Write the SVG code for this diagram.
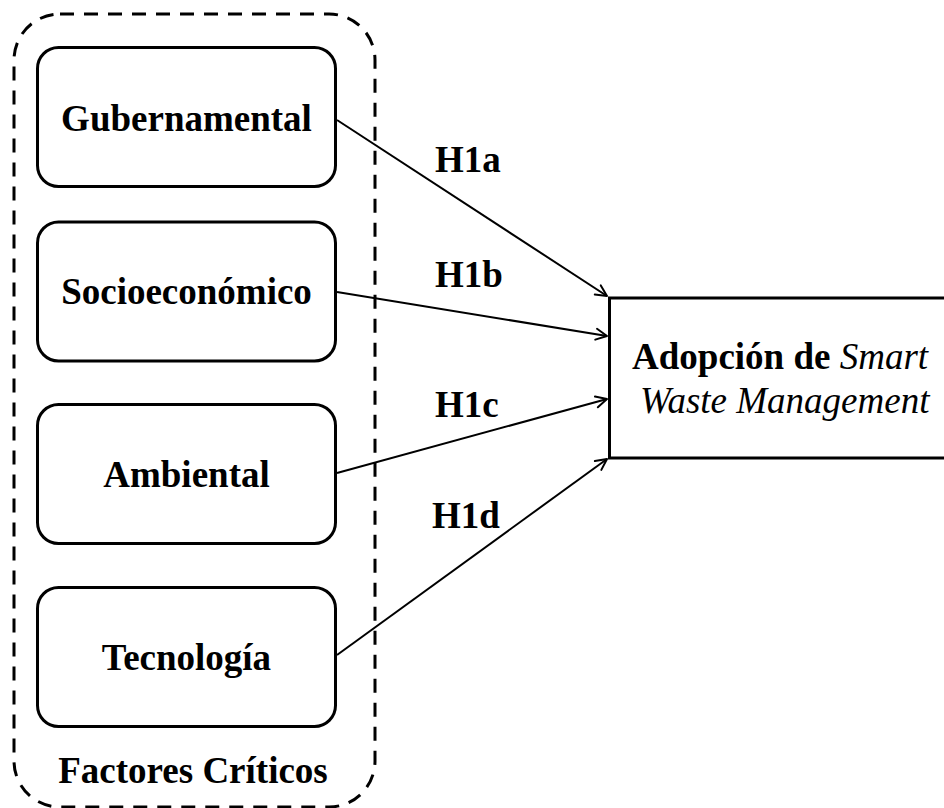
<svg xmlns="http://www.w3.org/2000/svg" width="944" height="808" viewBox="0 0 944 808">
  <style>
    text { font-family: "Liberation Serif", "Times New Roman", serif; font-size: 37px; fill: #000; }
    .b { font-weight: bold; }
    .it { font-style: italic; font-weight: normal; }
    .node { fill: #fff; stroke: #000; stroke-width: 3; }
    .group { fill: none; stroke: #000; stroke-width: 3; stroke-dasharray: 14 10; }
    .edge { fill: none; stroke: #000; stroke-width: 2; marker-end: url(#arrow); }
  </style>
  <defs>
    <marker id="arrow" markerUnits="userSpaceOnUse" markerWidth="16" markerHeight="16" viewBox="0 0 16 16" refX="14" refY="8" orient="auto">
      <path d="M3,2.5 L14,8 L3,13.5" fill="none" stroke="#000" stroke-width="2" stroke-linecap="round" stroke-linejoin="round"/>
    </marker>
  </defs>
  <rect width="944" height="808" fill="#fff"/>

  <!-- dashed grouping of the critical factors -->
  <g id="factores-criticos">
    <rect class="group" x="14" y="14" width="361" height="793" rx="46" ry="46"/>
    <text class="b" x="193" y="783" text-anchor="middle">Factores Críticos</text>
  </g>

  <g id="gubernamental">
    <rect class="node" x="37.5" y="47.5" width="298" height="139" rx="21"/>
    <text class="b" x="186.5" y="131" text-anchor="middle">Gubernamental</text>
  </g>
  <g id="socioeconomico">
    <rect class="node" x="37.5" y="222" width="298" height="139" rx="21"/>
    <text class="b" x="186.5" y="304" text-anchor="middle">Socioeconómico</text>
  </g>
  <g id="ambiental">
    <rect class="node" x="37.5" y="404.5" width="298" height="139" rx="21"/>
    <text class="b" x="186.5" y="487" text-anchor="middle">Ambiental</text>
  </g>
  <g id="tecnologia">
    <rect class="node" x="37.5" y="587.5" width="298" height="139" rx="21"/>
    <text class="b" x="186.5" y="670" text-anchor="middle">Tecnología</text>
  </g>

  <g id="adopcion-swm">
    <rect class="node" x="609.5" y="298" width="345" height="160"/>
    <text class="b" x="632" y="369">Adopción de <tspan class="it">Smart</tspan></text>
    <text class="it" x="640" y="413">Waste Management</text>
  </g>

  <!-- hypothesis connectors -->
  <g id="connectors">
    <line class="edge" x1="337" y1="120" x2="607" y2="296"/>
    <line class="edge" x1="337" y1="292" x2="607" y2="336"/>
    <line class="edge" x1="337" y1="473" x2="607" y2="399"/>
    <line class="edge" x1="337" y1="655" x2="607" y2="459"/>
    <text class="b" x="435" y="172">H1a</text>
    <text class="b" x="435" y="287">H1b</text>
    <text class="b" x="435" y="417">H1c</text>
    <text class="b" x="432" y="528">H1d</text>
  </g>
</svg>
